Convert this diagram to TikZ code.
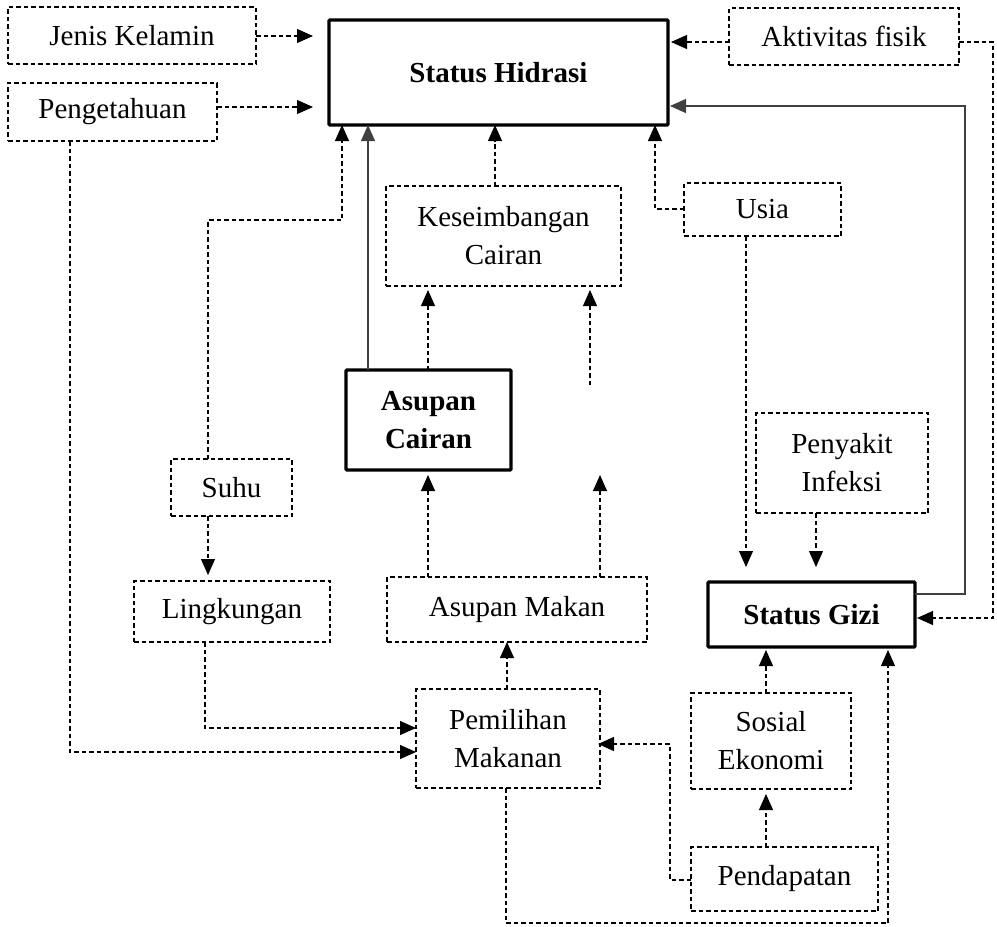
\documentclass[tikz,border=0pt]{standalone}
\usepackage{fontspec}
\setmainfont{Liberation Serif}
\usetikzlibrary{arrows.meta}
\begin{document}
\begin{tikzpicture}[x=1pt,y=-1pt,
  every node/.style={font=\fontsize{29}{38}\selectfont, align=center, inner sep=0pt, outer sep=0pt},
  dbox/.style={draw, line width=1.1pt, dash pattern=on 4.5pt off 3pt, rectangle},
  tbox/.style={draw, line width=3.4pt, rectangle, rounded corners=1pt, font=\fontsize{29}{38}\selectfont\bfseries},
  darr/.style={line width=1.1pt, dash pattern=on 4.5pt off 3pt, -{Triangle[length=16pt,width=14pt]}},
  sarr/.style={line width=1.3pt, black!75, -{Triangle[length=16pt,width=14pt]}},
  sline/.style={line width=1.3pt, black!75},
  dline/.style={line width=1.1pt, dash pattern=on 4.5pt off 3pt}
]
\useasboundingbox (0,0) rectangle (997,927);
% boxes
\node[dbox, minimum width=248, minimum height=57] (jk) at (132,35.5) {Jenis Kelamin};
\node[dbox, minimum width=209, minimum height=58] (pg) at (112.5,112) {Pengetahuan};
\node[tbox, minimum width=339, minimum height=105] (sh) at (498.5,72.5) {Status Hidrasi};
\node[dbox, minimum width=230, minimum height=57] (af) at (844,36.5) {Aktivitas fisik};
\node[dbox, minimum width=235, minimum height=100] (kc) at (503.5,236) {Keseimbangan\\Cairan};
\node[dbox, minimum width=157, minimum height=53] (us) at (762.5,209.5) {Usia};
\node[tbox, minimum width=165, minimum height=100] (ac) at (428.5,420) {Asupan\\Cairan};
\node[dbox, minimum width=172, minimum height=100] (pi) at (842,463) {Penyakit\\Infeksi};
\node[dbox, minimum width=121, minimum height=57] (su) at (231.5,487.5) {Suhu};
\node[dbox, minimum width=196, minimum height=61] (li) at (232,611.5) {Lingkungan};
\node[dbox, minimum width=260, minimum height=65] (am) at (517,609.5) {Asupan Makan};
\node[tbox, minimum width=207, minimum height=65] (sg) at (811.5,614.5) {Status Gizi};
\node[dbox, minimum width=184, minimum height=99] (pm) at (508,738.5) {Pemilihan\\Makanan};
\node[dbox, minimum width=160, minimum height=96] (se) at (771,741) {Sosial\\Ekonomi};
\node[dbox, minimum width=187, minimum height=64] (pd) at (784.5,879) {Pendapatan};
% free ends
\coordinate (f1) at (590,385);
\coordinate (f2) at (590,290);
\coordinate (f3) at (600,475);
% connectors
\draw[darr, shorten >=16pt] (jk.east |- 0,36) -- (sh.west |- 0,36);
\draw[darr, shorten >=16pt] (pg.east |- 0,107) -- (sh.west |- 0,107);
\draw[darr, shorten >=3pt] (af.west |- 0,42) -- (sh.east |- 0,42);
\draw[darr, shorten >=2pt] (af.east |- 0,42) -- (993,42) -- (993,618) -- (sg.east |- 0,618);
\draw[sarr, shorten >=2pt] (sg.east |- 0,594) -- (965,594) -- (965,106) -- (sh.east |- 0,106);
\draw[darr] (su.north -| 208,0) -- (208,220) -- (342,220) -- (sh.south -| 342,0);
\draw[sarr] (ac.north -| 368,0) -- (sh.south -| 368,0);
\draw[darr] (kc.north -| 495,0) -- (sh.south -| 495,0);
\draw[darr] (us.west |- 0,209) -- (655,209) -- (sh.south -| 655,0);
\draw[darr, shorten >=15pt] (us.south -| 746,0) -- (sg.north -| 746,0);
\draw[darr, shorten >=15pt] (pi.south -| 816,0) -- (sg.north -| 816,0);
\draw[darr, shorten >=4pt] (ac.north -| 428,0) -- (kc.south -| 428,0);
\draw[darr] (f1) -- (f2);
\draw[darr] (am.north -| 600,0) -- (f3);
\draw[darr, shorten >=5pt] (am.north -| 428,0) -- (ac.south -| 428,0);
\draw[darr, shorten >=6pt] (su.south -| 208,0) -- (li.north -| 208,0);
\draw[darr] (li.south -| 205,0) -- (205,728) -- (pm.west |- 0,728);
\draw[darr] (pg.south -| 70,0) -- (70,752) -- (pm.west |- 0,752);
\draw[darr] (pm.north -| 507,0) -- (am.south -| 507,0);
\draw[darr, shorten >=-2pt] (pd.west |- 0,880) -- (670,880) -- (670,744) -- (pm.east |- 0,744);
\draw[darr, shorten >=5pt] (pd.north -| 766,0) -- (se.south -| 766,0);
\draw[darr, shorten >=3pt] (se.north -| 766,0) -- (sg.south -| 766,0);
\draw[darr, shorten >=3pt] (pm.south -| 506,0) -- (506,923) -- (888,923) -- (sg.south -| 888,0);
\end{tikzpicture}
\end{document}
